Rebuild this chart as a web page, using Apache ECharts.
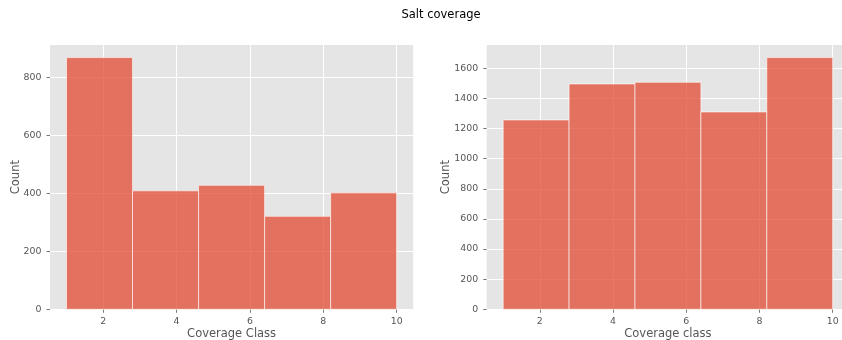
<!DOCTYPE html>
<html>
<head>
<meta charset="utf-8">
<script src="https://cdn.jsdelivr.net/npm/echarts@6/dist/echarts.min.js"></script>
<style>
  html, body { margin: 0; padding: 0; background: #fff; }
  #chart { width: 842px; height: 340px; }
</style>
</head>
<body>
<div id="chart"></div>
<script>
// Histogram bin edges shared by both panels
const binEdges = [1, 2.8, 4.6, 6.4, 8.2, 10];
// Counts per bin
const countsLeft = [869, 409, 428, 321, 402];
const countsRight = [1257, 1496, 1507, 1310, 1671];
// Tick values
const xTicks = [2, 4, 6, 8, 10];
const yTicksLeft = [0, 200, 400, 600, 800];
const yTicksRight = [0, 200, 400, 600, 800, 1000, 1200, 1400, 1600];
// Axis titles
const titleText = 'Salt coverage';
const xNameLeft = 'Coverage Class';
const xNameRight = 'Coverage class';
const yName = 'Count';

const FONT = 'DejaVu Sans';
const GREY = '#555555';

function binData(counts) {
  return counts.map((c, i) => [binEdges[i], binEdges[i + 1], c]);
}

function renderBin(params, api) {
  const p0 = api.coord([api.value(0), api.value(2)]);
  const p1 = api.coord([api.value(1), 0]);
  return {
    type: 'rect',
    shape: { x: p0[0], y: p0[1], width: p1[0] - p0[0], height: p1[1] - p0[1] },
    style: {
      fill: 'rgba(226,74,51,0.75)',
      stroke: 'rgba(255,255,255,0.6)',
      lineWidth: 1
    }
  };
}

function xAxis(gridIndex, name) {
  return {
    type: 'value',
    gridIndex,
    min: 0.55,
    max: 10.45,
    name,
    nameLocation: 'middle',
    nameGap: 19,
    nameMoveOverlap: false,
    nameTextStyle: { fontFamily: FONT, fontSize: 11.5, color: GREY },
    axisLine: { show: false },
    axisTick: { show: true, length: 3.5, lineStyle: { color: GREY, width: 0.8 }, customValues: xTicks },
    axisLabel: { fontFamily: FONT, fontSize: 9.4, color: GREY, margin: 8, customValues: xTicks },
    splitLine: { show: true, lineStyle: { color: '#ffffff', width: 1 } }
  };
}

function yAxis(gridIndex, max, ticks) {
  return {
    type: 'value',
    gridIndex,
    min: 0,
    max,
    name: yName,
    nameLocation: 'middle',
    nameGap: gridIndex === 0 ? 28 : 35,
    nameMoveOverlap: false,
    nameTextStyle: { fontFamily: FONT, fontSize: 11.5, color: GREY },
    axisLine: { show: false },
    axisTick: { show: true, length: 3.5, lineStyle: { color: GREY, width: 0.8 }, customValues: ticks },
    axisLabel: { fontFamily: FONT, fontSize: 9.4, color: GREY, margin: 8.5, customValues: ticks, formatter: v => String(v) },
    splitLine: { show: true, lineStyle: { color: '#ffffff', width: 1 } }
  };
}

const chart = echarts.init(document.getElementById('chart'), null, { renderer: 'canvas' });
chart.setOption({
  animation: false,
  backgroundColor: '#ffffff',
  title: {
    text: titleText,
    left: 436,
    top: 4,
    textAlign: 'center',
    textStyle: { fontFamily: FONT, fontSize: 11.5, fontWeight: 'normal', color: '#000000' }
  },
  // The right panel deliberately runs past the page edge
  grid: [
    { left: 50, top: 45, width: 363.2, height: 264.3, outerBoundsMode: 'none', show: true, backgroundColor: '#E5E5E5', borderWidth: 0 },
    { left: 486.7, top: 45, width: 362.5, height: 264.3, outerBoundsMode: 'none', show: true, backgroundColor: '#E5E5E5', borderWidth: 0 }
  ],
  xAxis: [xAxis(0, xNameLeft), xAxis(1, xNameRight)],
  yAxis: [
    yAxis(0, Math.max(...countsLeft) * 1.05, yTicksLeft),
    yAxis(1, Math.max(...countsRight) * 1.05, yTicksRight)
  ],
  series: [
    { type: 'custom', xAxisIndex: 0, yAxisIndex: 0, renderItem: renderBin, data: binData(countsLeft), encode: { x: [0, 1], y: 2 } },
    { type: 'custom', xAxisIndex: 1, yAxisIndex: 1, renderItem: renderBin, data: binData(countsRight), encode: { x: [0, 1], y: 2 } }
  ]
});
</script>
</body>
</html>
